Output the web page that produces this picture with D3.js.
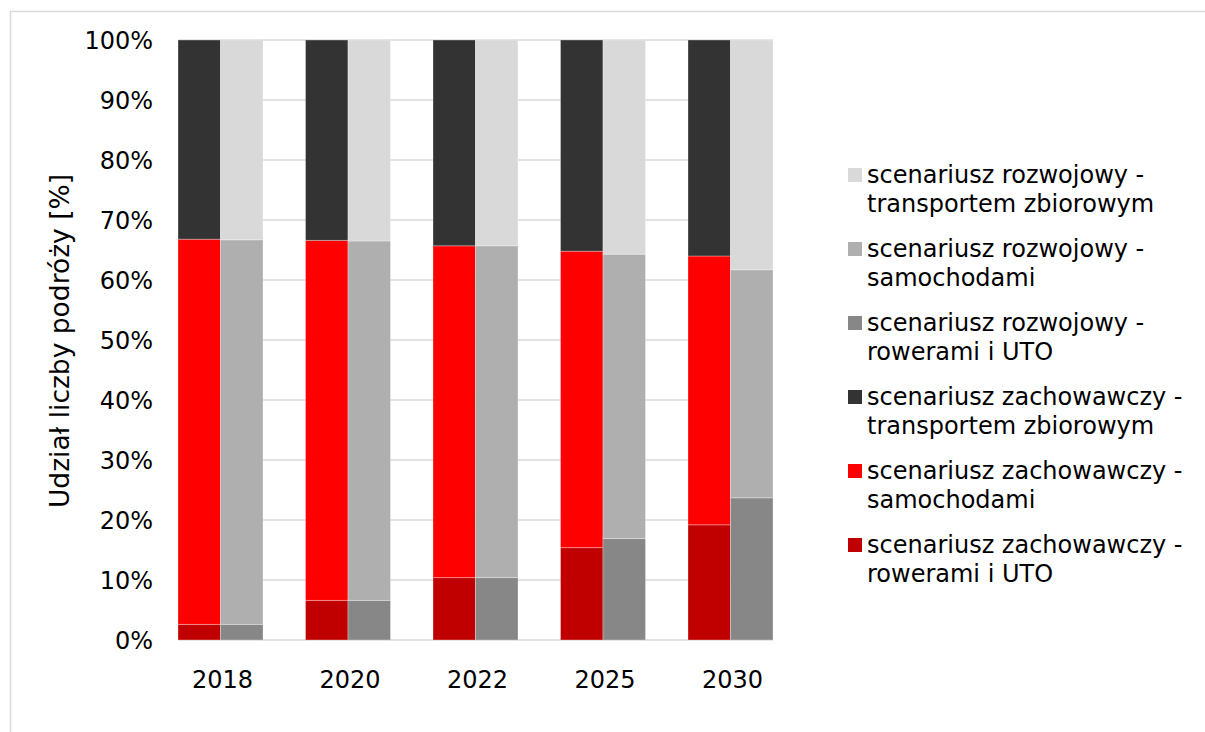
<!DOCTYPE html>
<html>
<head>
<meta charset="utf-8">
<script src="https://cdn.jsdelivr.net/npm/d3@7"></script>
<style>
  body { margin: 0; background: #fff; }
  svg text { font-family: "DejaVu Sans", Verdana, sans-serif; fill: #000; }
</style>
</head>
<body>
<svg id="chart" width="1205" height="732"></svg>
<script>
// lata (kategorie)
var years = ['2018', '2020', '2022', '2025', '2030'];

// scenariusz zachowawczy [%]
var zachRowery = [2.6, 6.6, 10.4, 15.4, 19.2];
var zachSamochody = [64.2, 60.0, 55.3, 49.4, 44.8];
var zachTransport = [33.2, 33.4, 34.3, 35.2, 36.0];

// scenariusz rozwojowy [%]
var rozwRowery = [2.6, 6.6, 10.4, 16.9, 23.7];
var rozwSamochody = [64.1, 59.9, 55.3, 47.4, 38.0];
var rozwTransport = [33.3, 33.5, 34.3, 35.7, 38.3];

var yTicks = [0, 10, 20, 30, 40, 50, 60, 70, 80, 90, 100];

var legendLabels = [
    ['scenariusz rozwojowy -', 'transportem zbiorowym'],
    ['scenariusz rozwojowy -', 'samochodami'],
    ['scenariusz rozwojowy -', 'rowerami i UTO'],
    ['scenariusz zachowawczy -', 'transportem zbiorowym'],
    ['scenariusz zachowawczy -', 'samochodami'],
    ['scenariusz zachowawczy -', 'rowerami i UTO']
];
var legendColors = ['#d9d9d9', '#afafaf', '#878787', '#333333', '#ff0000', '#c00000'];

var svg = d3.select('#chart'),
    plot = { left: 178, right: 773, top: 40, bottom: 640 };

// ramka wykresu (prawa i dolna krawedz poza oknem)
svg.append('rect')
    .attr('x', 10.5).attr('y', 11.5)
    .attr('width', 1250).attr('height', 740)
    .attr('fill', 'none').attr('stroke', '#d9d9d9').attr('stroke-width', 1.5);

// 14 slotow: 2 slupki na rok + pusty slot miedzy latami
var slots = d3.range(14);
var x = d3.scaleBand().domain(slots).range([plot.left, plot.right]).padding(0);
var y = d3.scaleLinear().domain([0, 100]).range([plot.bottom, plot.top]);

// siatka
svg.append('g').selectAll('line').data(yTicks).enter().append('line')
    .attr('x1', plot.left).attr('x2', plot.right)
    .attr('y1', function (d) { return y(d); })
    .attr('y2', function (d) { return y(d); })
    .attr('stroke', '#d9d9d9').attr('stroke-width', 1.5);

var yAxis = d3.axisLeft(y).tickValues(yTicks).tickSize(0).tickPadding(0)
    .tickFormat(function (d) { return d + '%'; });
var gy = svg.append('g').attr('transform', 'translate(153,0)').call(yAxis);
gy.select('.domain').remove();
gy.selectAll('text').style('font-size', '24px').attr('dy', '0.35em');

// dane do stosu
var bars = [];
years.forEach(function (yr, i) {
    bars.push({ slot: i * 3, parts: [zachRowery[i], zachSamochody[i], zachTransport[i]], colors: ['#c00000', '#ff0000', '#333333'] });
    bars.push({ slot: i * 3 + 1, parts: [rozwRowery[i], rozwSamochody[i], rozwTransport[i]], colors: ['#878787', '#afafaf', '#d9d9d9'] });
});

var segs = [];
bars.forEach(function (b) {
    var total = d3.sum(b.parts), acc = 0;
    b.parts.forEach(function (v, k) {
        var y0 = acc / total * 100, y1 = (acc + v) / total * 100;
        acc += v;
        segs.push({ slot: b.slot, y0: y0, y1: y1, color: b.colors[k] });
    });
});

svg.append('g').selectAll('rect').data(segs).enter().append('rect')
    .attr('x', function (d) { return x(d.slot); })
    .attr('width', x.bandwidth())
    .attr('y', function (d) { return y(d.y1); })
    .attr('height', function (d) { return y(d.y0) - y(d.y1); })
    .attr('fill', function (d) { return d.color; })
    .attr('stroke', 'rgba(255,255,255,0.3)').attr('stroke-width', 1);

// etykiety lat
svg.append('g').selectAll('text').data(years).enter().append('text')
    .attr('x', function (d, i) { return x(i * 3) + x.bandwidth() + 2; })
    .attr('y', 680).attr('dy', '0.35em')
    .attr('text-anchor', 'middle').style('font-size', '24px')
    .text(function (d) { return d; });

// tytul osi Y
svg.append('text')
    .attr('transform', 'translate(60,341) rotate(-90)')
    .attr('text-anchor', 'middle').attr('dy', '0.35em')
    .style('font-size', '26.5px')
    .text('Udział liczby podróży [%]');

// legenda
var lg = svg.append('g').selectAll('g').data(legendLabels).enter().append('g')
    .attr('transform', function (d, i) { return 'translate(848,' + (175 + i * 74) + ')'; });
lg.append('rect').attr('x', 0).attr('y', -7).attr('width', 14).attr('height', 14)
    .attr('fill', function (d, i) { return legendColors[i]; });
lg.append('text').attr('x', 19).attr('y', 0).attr('dy', '0.35em')
    .style('font-size', '24px').text(function (d) { return d[0]; });
lg.append('text').attr('x', 19).attr('y', 29).attr('dy', '0.35em')
    .style('font-size', '24px').text(function (d) { return d[1]; });
</script>
</body>
</html>
